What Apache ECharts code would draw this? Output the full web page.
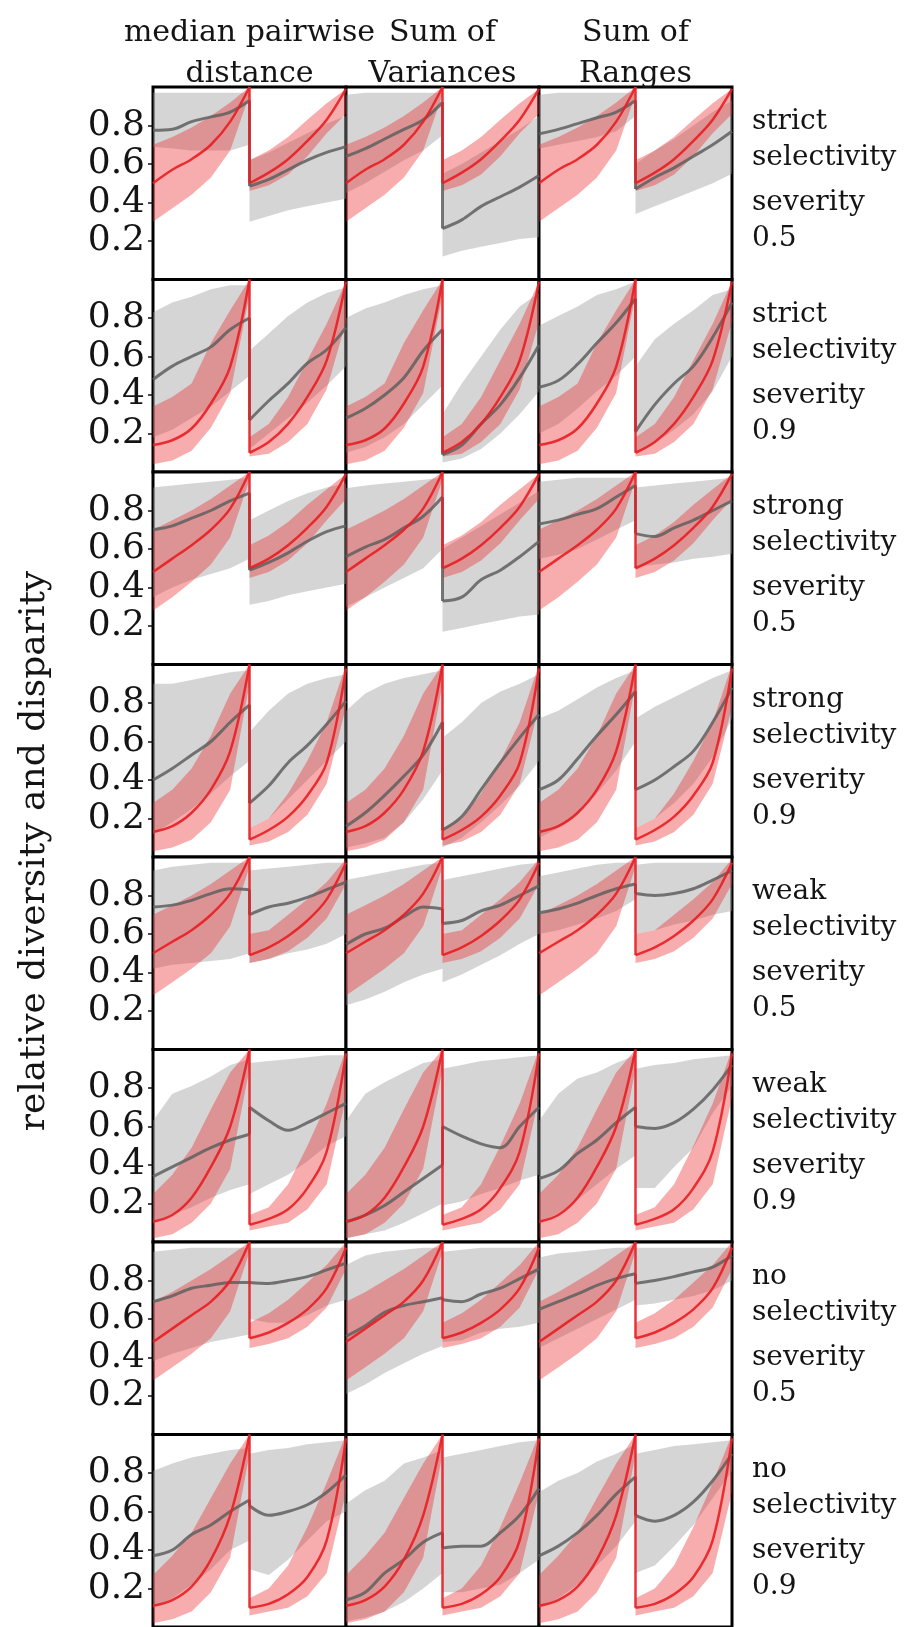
<!DOCTYPE html>
<html>
<head>
<meta charset="utf-8">
<script src="https://cdn.jsdelivr.net/npm/echarts@6.0.0/dist/echarts.min.js"></script>
<style>
  html, body { margin: 0; padding: 0; background: #fff; }
  #chart { width: 911px; height: 1627px; }
</style>
</head>
<body>
<div id="chart"></div>
<script>
// x positions: two cycles per panel, drop at 0.5
var xSteps = [0, 0.1, 0.2, 0.3, 0.4, 0.5, 0.5, 0.6, 0.7, 0.8, 0.9, 1.0];
var metricNames = [['median pairwise', 'distance'], ['Sum of', 'Variances'], ['Sum of', 'Ranges']];
var rowNames = [
  ['strict', 'selectivity', 'severity', '0.5'],
  ['strict', 'selectivity', 'severity', '0.9'],
  ['strong', 'selectivity', 'severity', '0.5'],
  ['strong', 'selectivity', 'severity', '0.9'],
  ['weak', 'selectivity', 'severity', '0.5'],
  ['weak', 'selectivity', 'severity', '0.9'],
  ['no', 'selectivity', 'severity', '0.5'],
  ['no', 'selectivity', 'severity', '0.9']
];
var yTicks = [0.2, 0.4, 0.6, 0.8];
var yName = 'relative diversity and disparity';

// red curve (one per row)
var redMean = [
  [0.50, 0.57, 0.625, 0.70, 0.82, 1.0, 0.50, 0.555, 0.625, 0.72, 0.83, 0.99],
  [0.14, 0.165, 0.226, 0.356, 0.548, 1.0, 0.10, 0.156, 0.25, 0.39, 0.58, 0.99],
  [0.48, 0.55, 0.62, 0.70, 0.81, 1.0, 0.50, 0.55, 0.62, 0.71, 0.82, 0.99],
  [0.13, 0.16, 0.23, 0.35, 0.55, 1.0, 0.09, 0.14, 0.21, 0.32, 0.49, 0.98],
  [0.50, 0.56, 0.62, 0.70, 0.81, 1.0, 0.49, 0.53, 0.59, 0.67, 0.78, 0.97],
  [0.105, 0.14, 0.23, 0.39, 0.60, 1.0, 0.09, 0.12, 0.17, 0.28, 0.47, 0.98],
  [0.48, 0.55, 0.62, 0.69, 0.80, 1.0, 0.50, 0.53, 0.58, 0.65, 0.76, 0.97],
  [0.11, 0.14, 0.21, 0.35, 0.58, 1.0, 0.10, 0.12, 0.17, 0.26, 0.45, 0.98]
];
var redLo = [
  [0.30, 0.37, 0.44, 0.53, 0.67, 0.96, 0.46, 0.49, 0.545, 0.64, 0.76, 0.86],
  [0.04, 0.06, 0.11, 0.23, 0.41, 0.92, 0.08, 0.095, 0.156, 0.25, 0.43, 0.78],
  [0.28, 0.35, 0.43, 0.52, 0.66, 0.96, 0.45, 0.48, 0.54, 0.63, 0.75, 0.86],
  [0.03, 0.05, 0.09, 0.18, 0.35, 0.90, 0.06, 0.08, 0.13, 0.22, 0.38, 0.78],
  [0.28, 0.35, 0.42, 0.50, 0.64, 0.95, 0.45, 0.47, 0.51, 0.58, 0.68, 0.86],
  [0.02, 0.04, 0.10, 0.20, 0.38, 0.90, 0.06, 0.08, 0.10, 0.17, 0.30, 0.75],
  [0.28, 0.35, 0.42, 0.50, 0.64, 0.95, 0.45, 0.47, 0.50, 0.56, 0.66, 0.86],
  [0.02, 0.04, 0.08, 0.18, 0.36, 0.90, 0.06, 0.08, 0.10, 0.16, 0.28, 0.70]
];
var redHi = [
  [0.70, 0.74, 0.79, 0.85, 0.92, 1.0, 0.62, 0.67, 0.74, 0.83, 0.915, 0.99],
  [0.34, 0.39, 0.46, 0.67, 0.84, 1.0, 0.18, 0.25, 0.39, 0.58, 0.77, 0.99],
  [0.70, 0.75, 0.80, 0.86, 0.93, 1.0, 0.62, 0.67, 0.74, 0.83, 0.91, 0.99],
  [0.28, 0.35, 0.46, 0.63, 0.85, 1.0, 0.15, 0.20, 0.33, 0.50, 0.70, 1.0],
  [0.70, 0.75, 0.80, 0.86, 0.93, 1.0, 0.60, 0.62, 0.70, 0.78, 0.87, 0.99],
  [0.25, 0.35, 0.49, 0.69, 0.88, 1.0, 0.14, 0.18, 0.30, 0.50, 0.72, 1.0],
  [0.69, 0.74, 0.80, 0.86, 0.93, 1.0, 0.58, 0.63, 0.70, 0.79, 0.88, 1.0],
  [0.27, 0.37, 0.49, 0.67, 0.85, 1.0, 0.15, 0.20, 0.32, 0.52, 0.75, 1.0]
];

// gray curve (one per panel: [row][column])
var grayMean = [
  [[0.775, 0.78, 0.82, 0.845, 0.87, 0.93, 0.485, 0.52, 0.57, 0.62, 0.66, 0.69],
   [0.64, 0.68, 0.73, 0.78, 0.83, 0.92, 0.265, 0.31, 0.38, 0.43, 0.48, 0.54],
   [0.757, 0.78, 0.81, 0.84, 0.87, 0.93, 0.47, 0.53, 0.58, 0.64, 0.70, 0.77]],
  [[0.48, 0.55, 0.60, 0.65, 0.74, 0.80, 0.27, 0.37, 0.46, 0.565, 0.635, 0.75],
   [0.28, 0.33, 0.40, 0.49, 0.63, 0.74, 0.09, 0.14, 0.25, 0.35, 0.49, 0.66],
   [0.44, 0.475, 0.56, 0.67, 0.775, 0.90, 0.21, 0.35, 0.46, 0.55, 0.70, 0.88]],
  [[0.70, 0.72, 0.76, 0.80, 0.85, 0.89, 0.49, 0.53, 0.58, 0.64, 0.69, 0.72],
   [0.56, 0.61, 0.65, 0.71, 0.77, 0.87, 0.33, 0.35, 0.44, 0.49, 0.56, 0.64],
   [0.73, 0.75, 0.78, 0.81, 0.87, 0.93, 0.68, 0.665, 0.71, 0.75, 0.80, 0.85]],
  [[0.40, 0.46, 0.53, 0.60, 0.70, 0.79, 0.28, 0.37, 0.49, 0.58, 0.69, 0.81],
   [0.16, 0.23, 0.32, 0.42, 0.53, 0.70, 0.14, 0.21, 0.35, 0.49, 0.62, 0.74],
   [0.35, 0.40, 0.51, 0.63, 0.74, 0.86, 0.35, 0.40, 0.47, 0.55, 0.70, 0.88]],
  [[0.74, 0.75, 0.775, 0.81, 0.835, 0.83, 0.70, 0.74, 0.76, 0.79, 0.83, 0.87],
   [0.545, 0.60, 0.63, 0.69, 0.74, 0.73, 0.655, 0.67, 0.72, 0.75, 0.80, 0.85],
   [0.71, 0.73, 0.76, 0.80, 0.835, 0.86, 0.81, 0.80, 0.81, 0.835, 0.88, 0.93]],
  [[0.34, 0.39, 0.44, 0.49, 0.53, 0.56, 0.70, 0.63, 0.58, 0.62, 0.67, 0.72],
   [0.105, 0.14, 0.19, 0.26, 0.33, 0.40, 0.60, 0.55, 0.51, 0.49, 0.60, 0.70],
   [0.33, 0.37, 0.46, 0.53, 0.62, 0.70, 0.60, 0.59, 0.62, 0.69, 0.79, 0.92]],
  [[0.69, 0.72, 0.76, 0.775, 0.79, 0.79, 0.79, 0.785, 0.80, 0.82, 0.855, 0.89],
   [0.51, 0.565, 0.635, 0.67, 0.69, 0.71, 0.70, 0.69, 0.73, 0.76, 0.81, 0.86],
   [0.65, 0.69, 0.73, 0.775, 0.81, 0.835, 0.785, 0.80, 0.82, 0.845, 0.87, 0.93]],
  [[0.37, 0.40, 0.48, 0.53, 0.60, 0.66, 0.63, 0.58, 0.60, 0.635, 0.70, 0.79],
   [0.14, 0.18, 0.28, 0.35, 0.44, 0.49, 0.41, 0.42, 0.42, 0.49, 0.58, 0.72],
   [0.37, 0.42, 0.49, 0.58, 0.69, 0.78, 0.58, 0.55, 0.58, 0.65, 0.76, 0.90]]
];
var grayLo = [
  [[0.69, 0.68, 0.67, 0.67, 0.67, 0.70, 0.30, 0.33, 0.36, 0.38, 0.40, 0.42],
   [0.45, 0.50, 0.56, 0.62, 0.67, 0.75, 0.12, 0.15, 0.17, 0.19, 0.21, 0.22],
   [0.68, 0.70, 0.72, 0.74, 0.77, 0.85, 0.34, 0.38, 0.42, 0.46, 0.50, 0.55]],
  [[0.18, 0.22, 0.28, 0.34, 0.42, 0.50, 0.12, 0.20, 0.28, 0.36, 0.45, 0.55],
   [0.10, 0.13, 0.18, 0.25, 0.35, 0.45, 0.05, 0.07, 0.12, 0.20, 0.30, 0.42],
   [0.20, 0.25, 0.33, 0.42, 0.50, 0.60, 0.10, 0.15, 0.22, 0.30, 0.42, 0.60]],
  [[0.35, 0.40, 0.44, 0.47, 0.50, 0.55, 0.31, 0.33, 0.36, 0.38, 0.40, 0.42],
   [0.30, 0.35, 0.40, 0.45, 0.50, 0.60, 0.17, 0.19, 0.21, 0.23, 0.25, 0.26],
   [0.55, 0.57, 0.60, 0.65, 0.70, 0.75, 0.505, 0.52, 0.53, 0.55, 0.56, 0.575]],
  [[0.12, 0.18, 0.25, 0.33, 0.42, 0.50, 0.15, 0.20, 0.30, 0.40, 0.50, 0.60],
   [0.05, 0.07, 0.10, 0.18, 0.30, 0.45, 0.05, 0.10, 0.18, 0.27, 0.37, 0.50],
   [0.10, 0.15, 0.22, 0.33, 0.45, 0.60, 0.15, 0.20, 0.28, 0.38, 0.52, 0.72]],
  [[0.42, 0.44, 0.45, 0.46, 0.47, 0.50, 0.45, 0.47, 0.50, 0.52, 0.55, 0.60],
   [0.23, 0.26, 0.30, 0.35, 0.39, 0.42, 0.35, 0.39, 0.44, 0.49, 0.55, 0.60],
   [0.60, 0.62, 0.65, 0.68, 0.72, 0.78, 0.60, 0.62, 0.65, 0.67, 0.70, 0.72]],
  [[0.10, 0.14, 0.18, 0.23, 0.27, 0.30, 0.25, 0.30, 0.35, 0.42, 0.50, 0.55],
   [0.02, 0.04, 0.06, 0.10, 0.15, 0.20, 0.19, 0.21, 0.25, 0.28, 0.32, 0.35],
   [0.10, 0.15, 0.22, 0.30, 0.38, 0.45, 0.28, 0.28, 0.39, 0.49, 0.67, 0.81]],
  [[0.38, 0.42, 0.45, 0.48, 0.50, 0.52, 0.60, 0.58, 0.58, 0.62, 0.67, 0.70],
   [0.21, 0.26, 0.32, 0.37, 0.42, 0.46, 0.48, 0.49, 0.53, 0.55, 0.56, 0.58],
   [0.45, 0.50, 0.55, 0.60, 0.65, 0.70, 0.67, 0.68, 0.70, 0.72, 0.75, 0.80]],
  [[0.10, 0.15, 0.22, 0.30, 0.40, 0.45, 0.30, 0.27, 0.35, 0.45, 0.55, 0.60],
   [0.03, 0.05, 0.08, 0.13, 0.20, 0.28, 0.18, 0.18, 0.20, 0.22, 0.28, 0.35],
   [0.10, 0.15, 0.22, 0.32, 0.42, 0.55, 0.28, 0.32, 0.42, 0.53, 0.67, 0.81]]
];
var grayHi = [
  [[0.97, 0.97, 0.97, 0.97, 0.97, 0.97, 0.62, 0.66, 0.71, 0.76, 0.81, 0.85],
   [0.96, 0.97, 0.97, 0.97, 0.97, 0.97, 0.55, 0.60, 0.66, 0.72, 0.78, 0.85],
   [0.96, 0.97, 0.97, 0.97, 0.97, 0.97, 0.60, 0.67, 0.73, 0.80, 0.87, 0.93]],
  [[0.83, 0.88, 0.91, 0.95, 0.97, 0.97, 0.63, 0.72, 0.81, 0.88, 0.93, 0.96],
   [0.80, 0.85, 0.88, 0.92, 0.95, 0.97, 0.30, 0.46, 0.60, 0.74, 0.86, 0.93],
   [0.76, 0.81, 0.86, 0.92, 0.95, 0.99, 0.55, 0.69, 0.77, 0.84, 0.92, 0.95]],
  [[0.92, 0.93, 0.94, 0.95, 0.96, 0.97, 0.75, 0.80, 0.85, 0.89, 0.92, 0.94],
   [0.915, 0.93, 0.94, 0.95, 0.96, 0.97, 0.60, 0.66, 0.72, 0.78, 0.84, 0.90],
   [0.95, 0.96, 0.97, 0.97, 0.97, 0.97, 0.92, 0.93, 0.94, 0.95, 0.96, 0.97]],
  [[0.90, 0.90, 0.92, 0.94, 0.96, 0.97, 0.65, 0.76, 0.85, 0.90, 0.93, 0.95],
   [0.76, 0.85, 0.90, 0.93, 0.95, 0.97, 0.62, 0.70, 0.80, 0.86, 0.90, 0.95],
   [0.72, 0.76, 0.82, 0.88, 0.93, 0.97, 0.72, 0.78, 0.83, 0.88, 0.93, 0.97]],
  [[0.93, 0.95, 0.96, 0.97, 0.97, 0.97, 0.93, 0.94, 0.95, 0.96, 0.97, 0.97],
   [0.88, 0.90, 0.92, 0.94, 0.96, 0.97, 0.88, 0.90, 0.92, 0.94, 0.96, 0.97],
   [0.90, 0.92, 0.94, 0.96, 0.97, 0.97, 0.96, 0.97, 0.97, 0.97, 0.97, 0.97]],
  [[0.63, 0.77, 0.81, 0.86, 0.92, 0.95, 0.93, 0.94, 0.95, 0.96, 0.97, 0.97],
   [0.63, 0.77, 0.83, 0.88, 0.93, 0.95, 0.90, 0.92, 0.94, 0.95, 0.96, 0.97],
   [0.63, 0.77, 0.85, 0.88, 0.93, 0.97, 0.90, 0.92, 0.93, 0.95, 0.96, 0.97]],
  [[0.95, 0.96, 0.97, 0.97, 0.97, 0.97, 0.97, 0.97, 0.97, 0.97, 0.97, 0.97],
   [0.88, 0.93, 0.95, 0.96, 0.97, 0.97, 0.95, 0.96, 0.97, 0.97, 0.97, 0.97],
   [0.92, 0.94, 0.95, 0.96, 0.97, 0.97, 0.97, 0.97, 0.97, 0.97, 0.97, 0.97]],
  [[0.81, 0.85, 0.88, 0.90, 0.92, 0.93, 0.90, 0.92, 0.93, 0.95, 0.96, 0.97],
   [0.64, 0.71, 0.76, 0.85, 0.88, 0.92, 0.88, 0.90, 0.92, 0.94, 0.96, 0.97],
   [0.70, 0.76, 0.80, 0.86, 0.90, 0.95, 0.90, 0.92, 0.94, 0.95, 0.96, 0.97]]
];

var GL = 153, GW = 193, GT = 87, GH = 192.5;
var FONT = 'DejaVu Serif';
var TXT = '#141414';

function band(k, lo, hi, color, z) {
  return {
    type: 'custom',
    xAxisIndex: k,
    yAxisIndex: k,
    z: z,
    silent: true,
    data: xSteps.map(function (x, i) { return [x, lo[i], hi[i]]; }),
    encode: { x: 0, y: [1, 2] },
    renderItem: function (params, api) {
      if (params.dataIndex !== 0) return null;
      var pts = [];
      for (var i = 0; i < xSteps.length; i++) pts.push(api.coord([xSteps[i], hi[i]]));
      for (var j = xSteps.length - 1; j >= 0; j--) pts.push(api.coord([xSteps[j], lo[j]]));
      return { type: 'polygon', shape: { points: pts }, style: { fill: color } };
    }
  };
}

function curve(k, vals, color, width, z) {
  var pts = [];
  for (var i = 0; i < 6; i++) pts.push([xSteps[i], vals[i]]);
  pts.push([0.5, '-']);
  for (var j = 6; j < 12; j++) pts.push([xSteps[j], vals[j]]);
  return {
    type: 'line',
    xAxisIndex: k,
    yAxisIndex: k,
    z: z,
    silent: true,
    data: pts,
    showSymbol: false,
    smooth: 0.35,
    lineStyle: { color: color, width: width },
    markLine: {
      silent: true,
      symbol: 'none',
      label: { show: false },
      lineStyle: { color: color, width: width, type: 'solid' },
      data: [[{ coord: [0.5, vals[5]] }, { coord: [0.5, vals[6]] }]]
    }
  };
}

var grids = [], xAxes = [], yAxes = [], series = [], graphics = [];
for (var r = 0; r < 8; r++) {
  for (var c = 0; c < 3; c++) {
    var k = r * 3 + c;
    grids.push({
      left: GL + c * GW, top: GT + r * GH, width: GW, height: GH,
      show: true, borderColor: '#000', borderWidth: 3, backgroundColor: '#fff'
    });
    xAxes.push({ gridIndex: k, type: 'value', min: 0, max: 1, show: false });
    yAxes.push({
      gridIndex: k, type: 'value', min: 0, max: 1, show: c === 0,
      axisLine: { show: false },
      splitLine: { show: false },
      axisTick: { show: true, length: 5, customValues: yTicks, lineStyle: { color: '#111', width: 1.5 } },
      axisLabel: { customValues: yTicks, fontFamily: FONT, fontSize: 36, color: TXT, margin: 8 }
    });
    series.push(band(k, grayLo[r][c], grayHi[r][c], 'rgba(150,150,150,0.4)', 1));
    series.push(band(k, redLo[r], redHi[r], 'rgba(235,40,40,0.38)', 2));
    series.push(curve(k, grayMean[r][c], 'rgba(95,95,95,0.85)', 3, 3));
    series.push(curve(k, redMean[r], 'rgba(232,30,35,0.9)', 2.5, 4));
  }
}

// column titles
metricNames.forEach(function (lines, c) {
  var cx = GL + c * GW + GW / 2;
  lines.forEach(function (t, i) {
    graphics.push({
      type: 'text', x: cx, y: 33 + i * 41,
      style: { text: t, fontFamily: FONT, fontSize: 30, fill: TXT, align: 'center', verticalAlign: 'middle' }
    });
  });
});

// row labels on the right
var rowOffsets = [35, 71, 116, 152];
rowNames.forEach(function (lines, r) {
  lines.forEach(function (t, i) {
    graphics.push({
      type: 'text', x: 752, y: GT + r * GH + rowOffsets[i],
      style: { text: t, fontFamily: FONT, fontSize: 28, fill: TXT, align: 'left', verticalAlign: 'middle' }
    });
  });
});

// y axis name
graphics.push({
  type: 'text', x: 35, y: 851, rotation: Math.PI / 2,
  style: { text: yName, fontFamily: FONT, fontSize: 36, fill: TXT, align: 'center', verticalAlign: 'middle' }
});

var chart = echarts.init(document.getElementById('chart'));
chart.setOption({
  animation: false,
  backgroundColor: '#fff',
  grid: grids,
  xAxis: xAxes,
  yAxis: yAxes,
  series: series,
  graphic: graphics
});
</script>
</body>
</html>
